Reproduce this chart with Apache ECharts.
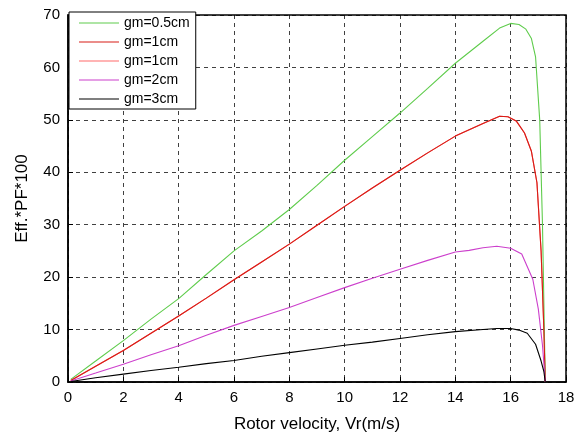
<!DOCTYPE html>
<html>
<head>
<meta charset="utf-8">
<script src="https://cdn.jsdelivr.net/npm/echarts@6/dist/echarts.min.js"></script>
<style>
  html, body { margin: 0; padding: 0; background: #fff; }
  #chart { width: 580px; height: 438px; }
</style>
</head>
<body>
<div id="chart"></div>
<script>
// --- data ---
const legendNames = ['gm=0.5cm', 'gm=1cm', 'gm=1cm ', 'gm=2cm', 'gm=3cm'];

const gm05X = [0.1, 1, 2, 3, 4, 5, 6, 7, 8, 9, 10, 11, 12, 13, 14, 15, 15.6, 16, 16.3, 16.55, 16.75, 16.9, 17.05, 17.15, 17.25];
const gm05Y = [0.5, 4, 7.9, 12, 15.9, 20.5, 25, 28.8, 32.9, 37.5, 42.3, 46.8, 51.3, 56, 60.8, 65, 67.5, 68.4, 68.2, 67.3, 65.5, 62, 50, 30, 0];

const gm1X = [0.1, 1, 2, 3, 4, 5, 6, 7, 8, 9, 10, 11, 12, 13, 14, 15, 15.6, 15.9, 16.2, 16.5, 16.75, 16.95, 17.1, 17.2, 17.25];
const gm1Y = [0.3, 3, 6, 9.3, 12.6, 16, 19.5, 22.9, 26.3, 29.9, 33.5, 37, 40.4, 43.7, 46.9, 49.3, 50.7, 50.6, 49.8, 47.5, 44, 38, 25, 10, 0];

const gm2X = [0.1, 1, 2, 3, 4, 5, 6, 7, 8, 9, 10, 11, 12, 13, 14, 14.5, 15, 15.5, 16, 16.4, 16.8, 17, 17.15, 17.25];
const gm2Y = [0.2, 1.7, 3.4, 5.2, 6.9, 8.9, 10.8, 12.5, 14.2, 16.1, 18, 19.8, 21.5, 23.2, 24.8, 25.1, 25.6, 25.9, 25.5, 24.4, 19.6, 13.9, 7, 0];

const gm3X = [0.1, 1, 2, 3, 4, 5, 6, 7, 8, 9, 10, 11, 12, 13, 14, 15, 15.5, 16, 16.3, 16.6, 16.9, 17.1, 17.2, 17.25];
const gm3Y = [0.1, 0.8, 1.5, 2.2, 2.8, 3.5, 4.1, 4.9, 5.6, 6.3, 7, 7.6, 8.3, 9, 9.6, 10, 10.2, 10.2, 9.9, 9.3, 7.2, 4, 2, 0];

const xTicks = [0, 2, 4, 6, 8, 10, 12, 14, 16, 18];
const yTicks = [0, 10, 20, 30, 40, 50, 60, 70];

const colors = ['#5fcc4c', '#d81c16', '#ff6a6a', '#cc3fcc', '#000000'];
const zOrder = [3, 4, 2, 5, 6];

const pairs = (xs, ys) => xs.map((x, i) => [x, ys[i]]);

// the second "gm=1cm" curve sits under the red one, so it reuses those values
const seriesData = [
  pairs(gm05X, gm05Y),
  pairs(gm1X, gm1Y),
  pairs(gm1X, gm1Y),
  pairs(gm2X, gm2Y),
  pairs(gm3X, gm3Y)
];

const font = 'Liberation Sans, Arial, Helvetica, sans-serif';
const gridLine = { show: true, lineStyle: { color: '#000', type: [4, 4], width: 1, opacity: 0.75 } };

const chart = echarts.init(document.getElementById('chart'));
chart.setOption({
  animation: false,
  backgroundColor: '#fff',
  grid: { left: 68, right: 14, top: 15, bottom: 55, show: true, borderColor: '#000', borderWidth: 1.5, backgroundColor: 'transparent' },
  legend: {
    data: legendNames,
    orient: 'vertical',
    left: 69,
    top: 12,
    icon: 'rect',
    itemWidth: 40,
    itemHeight: 1.2,
    itemGap: 5,
    padding: [4, 6, 3, 10],
    borderColor: '#000',
    borderWidth: 1,
    backgroundColor: '#fff',
    textStyle: { fontFamily: font, fontSize: 14, color: '#000' }
  },
  xAxis: {
    type: 'value',
    min: 0,
    max: 18,
    interval: 2,
    name: 'Rotor velocity, Vr(m/s)',
    nameLocation: 'middle',
    nameGap: 34,
    nameTextStyle: { fontFamily: font, fontSize: 17, color: '#000' },
    axisLine: { show: true, onZero: false, lineStyle: { color: '#000', width: 1.5 } },
    axisTick: { show: true, inside: true, length: 5, lineStyle: { color: '#000' } },
    axisLabel: { fontFamily: font, fontSize: 15, color: '#000', margin: 8,
      formatter: v => (xTicks.includes(v) ? String(v) : '') },
    splitLine: gridLine
  },
  yAxis: {
    type: 'value',
    min: 0,
    max: 70,
    interval: 10,
    name: 'Eff.*PF*100',
    nameLocation: 'middle',
    nameGap: 37,
    nameTextStyle: { fontFamily: font, fontSize: 17, color: '#000' },
    axisLine: { show: true, onZero: false, lineStyle: { color: '#000', width: 1.5 } },
    axisTick: { show: true, inside: true, length: 5, lineStyle: { color: '#000' } },
    axisLabel: { fontFamily: font, fontSize: 15, color: '#000', margin: 8,
      formatter: v => (yTicks.includes(v) ? String(v) : '') },
    splitLine: gridLine
  },
  series: legendNames.map((name, i) => ({
    name: name,
    type: 'line',
    data: seriesData[i],
    showSymbol: false,
    symbol: 'none',
    color: colors[i],
    lineStyle: { width: 1.1, color: colors[i] },
    z: zOrder[i]
  }))
});
</script>
</body>
</html>
